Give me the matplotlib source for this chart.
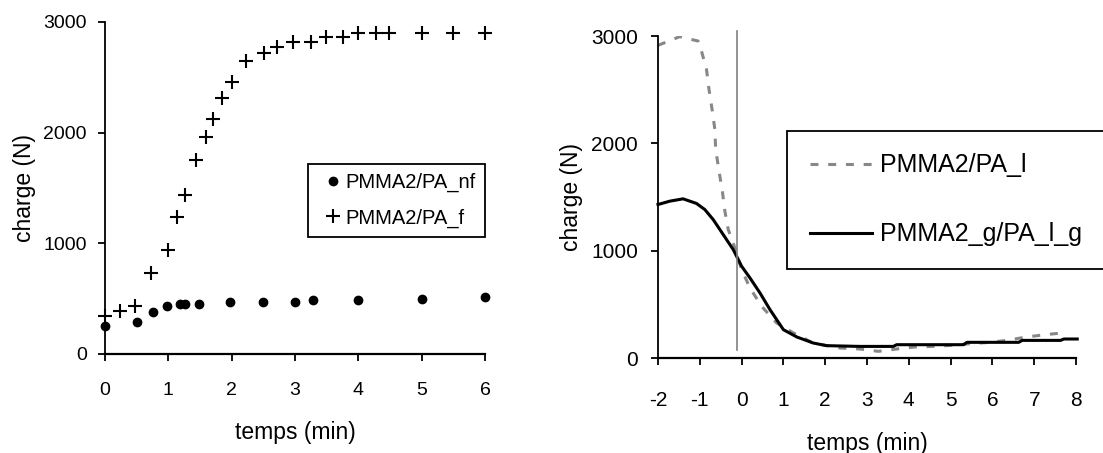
import numpy as np
import matplotlib.pyplot as plt

plt.rcParams['font.family'] = ['Liberation Sans', 'DejaVu Sans']
plt.rcParams['axes.unicode_minus'] = False

# left chart: PMMA2/PA_nf (dots) and PMMA2/PA_f (crosses)
t_nf = [0, 0.5, 0.76, 0.98, 1.18, 1.27, 1.48, 1.98, 2.5, 3.0, 3.28, 3.99, 5.0, 6.0]
q_nf = [253, 292, 376, 436, 448, 448, 448, 466, 466, 466, 488, 488, 497, 518]
t_f = [0, 0.23, 0.48, 0.73, 1.0, 1.13, 1.26, 1.43, 1.59, 1.70, 1.85, 2.0, 2.23,
       2.51, 2.72, 2.97, 3.26, 3.49, 3.76, 3.99, 4.28, 4.49, 5.0, 5.5, 6.0]
q_f = [340, 390, 436, 729, 940, 1235, 1436, 1752, 1957, 2122, 2310, 2461, 2647,
       2722, 2777, 2823, 2823, 2868, 2868, 2897, 2897, 2897, 2897, 2897, 2897]

# right chart: PMMA2/PA_l (grey dashed) and PMMA2_g/PA_l_g (black)
t_l = [-2, -1.48, -1.04, -0.96, -0.84, -0.78, -0.70, -0.64, -0.62, -0.54, -0.46,
       -0.40, -0.32, -0.16, 0.0, 0.20, 0.48, 0.84, 1.24, 1.71, 2.35, 2.83, 3.27,
       3.71, 4.14, 4.58, 5.02, 5.46, 5.94, 6.34, 6.82, 7.26, 7.66]
q_l = [2913, 2994, 2953, 2860, 2689, 2503, 2300, 2130, 1943, 1741, 1554, 1368,
       1197, 1026, 824, 653, 481, 326, 233, 140, 93, 84, 62, 84, 103, 108, 118,
       133, 146, 164, 196, 217, 233]
t_g = [-2, -1.72, -1.40, -1.08, -0.88, -0.68, -0.44, -0.20, 0.0, 0.20, 0.44, 0.68,
       1.0, 1.32, 1.71, 2.03, 2.83, 3.63, 3.71, 5.31, 5.39, 6.63, 6.71, 7.63, 7.71, 8.03]
q_g = [1430, 1461, 1483, 1440, 1383, 1290, 1150, 1010, 855, 746, 606, 450,
       264, 196, 140, 115, 108, 108, 124, 124, 146, 146, 164, 164, 177, 177]
t_mark = -0.12  # vertical reference line

fig = plt.figure(figsize=(11.03, 4.53), dpi=100)
ax1 = fig.add_axes([105 / 1103, 99 / 453, 380 / 1103, 332 / 453])
ax2 = fig.add_axes([658 / 1103, 95 / 453, 418 / 1103, 322 / 453])


def style(ax, fs, xpad, ypad):
    ax.spines['top'].set_visible(False)
    ax.spines['right'].set_visible(False)
    ax.spines['left'].set_linewidth(1.3)
    ax.spines['bottom'].set_linewidth(1.6)
    ax.tick_params(direction='out', length=5, width=1.3, labelsize=fs)
    ax.tick_params(axis='x', pad=xpad)
    ax.tick_params(axis='y', pad=ypad)


ax1.plot(t_nf, q_nf, 'o', color='black', ms=6, label='PMMA2/PA_nf', clip_on=False)
ax1.plot(t_f, q_f, '+', color='black', ms=10, mew=1.5, label='PMMA2/PA_f', clip_on=False)
ax1.set_xlim(0, 6)
ax1.set_ylim(0, 3000)
ax1.set_xticks(range(0, 7))
ax1.set_yticks([0, 1000, 2000, 3000])
style(ax1, 14, 15, 8)
ax1.set_xlabel('temps (min)', fontsize=16.5, labelpad=16)
ax1.set_ylabel('charge (N)', fontsize=16.5, labelpad=5)
ax1.legend(loc='upper left', bbox_to_anchor=(308 / 1103, 1 - 164 / 453),
           bbox_transform=fig.transFigure, fontsize=14.5, frameon=True, fancybox=False,
           edgecolor='black', handlelength=1.6, handletextpad=-0.2, labelspacing=0.8,
           borderpad=0.45, borderaxespad=0, framealpha=1)
ax1.get_legend().get_frame().set_linewidth(1.3)

ax2.plot(t_l, q_l, color='#888888', lw=2.2, ls=(0, (2.6, 3.2)), label='PMMA2/PA_l')
ax2.plot(t_g, q_g, color='black', lw=2.2, label='PMMA2_g/PA_l_g', clip_on=False)
ax2.plot([t_mark, t_mark], [77, 3050], color='#808080', lw=1.2, clip_on=False)
ax2.set_xlim(-2, 8)
ax2.set_ylim(0, 3000)
ax2.set_xticks(range(-2, 9))
ax2.set_yticks([0, 1000, 2000, 3000])
style(ax2, 15, 18.5, 9.5)
ax2.set_xlabel('temps (min)', fontsize=16.5, labelpad=16)
ax2.set_ylabel('charge (N)', fontsize=16.5, labelpad=6)
ax2.legend(loc='upper left', bbox_to_anchor=(787 / 1103, 1 - 131 / 453),
           bbox_transform=fig.transFigure, fontsize=18, frameon=True, fancybox=False,
           edgecolor='black', handlelength=2.5, handletextpad=0.3, labelspacing=1.8,
           borderpad=0.9, borderaxespad=0, framealpha=1)
ax2.get_legend().get_frame().set_linewidth(1.3)

fig.savefig('out.png', dpi=100)
